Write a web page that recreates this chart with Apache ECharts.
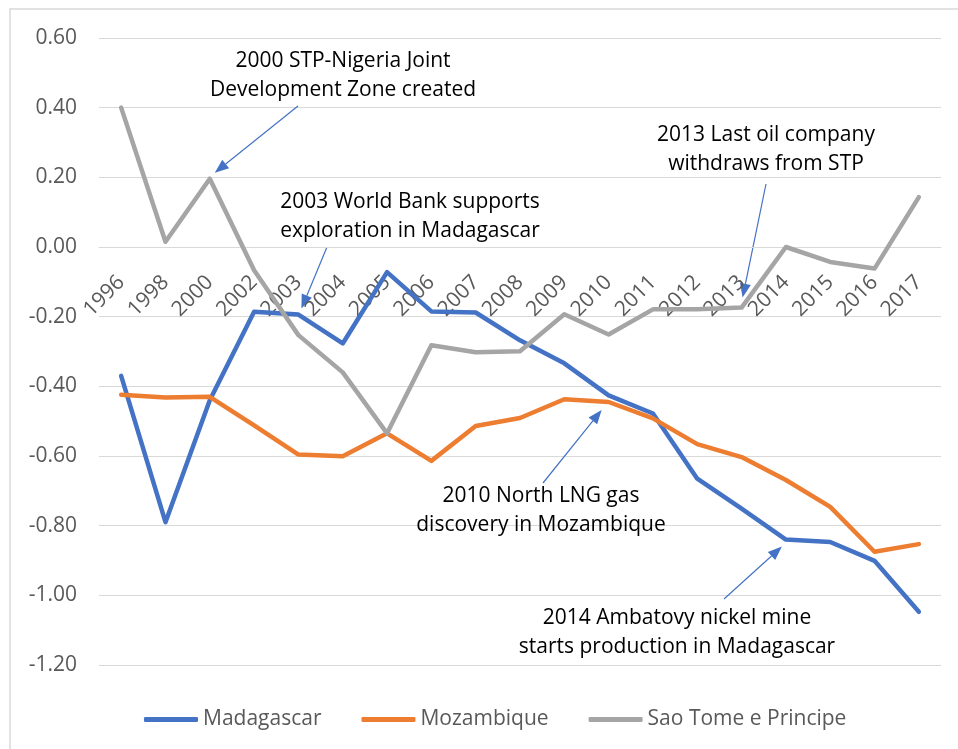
<!DOCTYPE html>
<html>
<head>
<meta charset="utf-8">
<script src="https://cdn.jsdelivr.net/npm/echarts@6/dist/echarts.min.js"></script>
<style>
  html, body { margin: 0; padding: 0; background: #fff; }
  #chart { width: 958px; height: 749px; }
</style>
</head>
<body>
<div id="chart"></div>
<script>
// data
const years = ['1996', '1998', '2000', '2002', '2003', '2004', '2005', '2006', '2007', '2008',
  '2009', '2010', '2011', '2012', '2013', '2014', '2015', '2016', '2017'];
const madagascar = [-0.37, -0.79, -0.44, -0.186, -0.194, -0.277, -0.072, -0.185, -0.188, -0.268,
  -0.334, -0.426, -0.478, -0.665, -0.751, -0.84, -0.847, -0.901, -1.047];
const mozambique = [-0.424, -0.432, -0.43, -0.512, -0.596, -0.601, -0.535, -0.614, -0.514, -0.491,
  -0.437, -0.445, -0.492, -0.566, -0.603, -0.669, -0.746, -0.875, -0.853];
const saoTome = [0.40, 0.015, 0.196, -0.067, -0.253, -0.36, -0.535, -0.282, -0.302, -0.299,
  -0.193, -0.251, -0.179, -0.179, -0.174, 0.0, -0.043, -0.062, 0.143];
const seriesNames = ['Madagascar', 'Mozambique', 'Sao Tome e Principe'];
const yMin = -1.2, yMax = 0.6, yStep = 0.2;

// annotations: text and the point the arrow points to
const notes = [
  { text: '2000 STP-Nigeria Joint\nDevelopment Zone created', series: 2, idx: 2 },
  { text: '2003 World Bank supports\nexploration in Madagascar', series: 0, idx: 4 },
  { text: '2013 Last oil company\nwithdraws from STP', series: 2, idx: 14 },
  { text: '2010 North LNG gas\ndiscovery in Mozambique', series: 1, idx: 11 },
  { text: '2014 Ambatovy nickel mine\nstarts production in Madagascar', series: 0, idx: 15 }
];
// layout of annotations (pixels)
const noteLayout = [
  { x: 343, y: 76, dx: 5, dy: -6, tail: [298, 106] },
  { x: 410, y: 217, dx: 3, dy: -6, tail: [327, 247] },
  { x: 766, y: 150, dx: 1, dy: -10, tail: [766, 184] },
  { x: 541, y: 511, dx: -7, dy: 8, tail: [543, 483] },
  { x: 677, y: 633, dx: -4, dy: 7, tail: [724, 599] }
];

const font = '"Open Sans", "Liberation Sans", sans-serif';
const colors = ['#4472C4', '#ED7D31', '#A5A5A5'];
const allData = [madagascar, mozambique, saoTome];

const gridTop = 38, gridBottom = 84, chartH = 749;
// push the category axis up to the zero line (Excel style)
const plotH = chartH - gridTop - gridBottom;
const zeroOffset = -(plotH * (0 - yMin) / (yMax - yMin));

const chart = echarts.init(document.getElementById('chart'));

chart.setOption({
  animation: false,
  color: colors,
  grid: { left: 99, right: 17, top: gridTop, bottom: gridBottom },
  legend: {
    top: 704,
    left: 139,
    icon: 'roundRect',
    itemWidth: 54,
    itemHeight: 5,
    itemGap: 40,
    textStyle: { fontSize: 21, color: '#595959', fontFamily: font },
    data: seriesNames
  },
  xAxis: {
    type: 'category',
    data: years,
    boundaryGap: true,
    position: 'bottom',
    offset: zeroOffset,
    axisLine: { onZero: false, lineStyle: { color: '#d9d9d9', width: 1 } },
    axisTick: { show: false },
    axisLabel: { rotate: 45, interval: 0, margin: 32, fontSize: 21, color: '#595959', fontFamily: font }
  },
  yAxis: {
    type: 'value',
    min: yMin,
    max: yMax,
    interval: yStep,
    axisLine: { show: false },
    axisTick: { show: false },
    splitLine: { lineStyle: { color: '#d9d9d9', width: 1 } },
    axisLabel: {
      margin: 22, fontSize: 21, color: '#595959', fontFamily: font,
      formatter: v => v.toFixed(2)
    }
  },
  series: seriesNames.map((name, i) => ({
    name: name,
    type: 'line',
    data: allData[i],
    symbol: 'none',
    lineStyle: { width: 4.5, cap: 'round', join: 'round' }
  }))
});

// border + annotation texts + arrows
const graphics = [{
  type: 'rect',
  shape: { x: 10, y: 9, width: 960, height: 760 },
  style: { fill: 'none', stroke: '#d9d9d9', lineWidth: 1.5 },
  silent: true
}];

notes.forEach((n, k) => {
  const lay = noteLayout[k];
  graphics.push({
    type: 'text',
    x: lay.x,
    y: lay.y,
    style: {
      text: n.text, align: 'center', verticalAlign: 'middle',
      fontSize: 21, fontFamily: font, lineHeight: 29, fill: '#000'
    }
  });
  const p = chart.convertToPixel({ seriesIndex: n.series }, [n.idx, allData[n.series][n.idx]]);
  const tip = [p[0] + lay.dx, p[1] + lay.dy];
  const tail = lay.tail;
  let ux = tip[0] - tail[0], uy = tip[1] - tail[1];
  const len = Math.sqrt(ux * ux + uy * uy);
  ux /= len; uy /= len;
  const headL = 14, headW = 11;
  const base = [tip[0] - ux * headL, tip[1] - uy * headL];
  graphics.push({
    type: 'line',
    shape: { x1: tail[0], y1: tail[1], x2: base[0], y2: base[1] },
    style: { stroke: '#4472C4', lineWidth: 1.2 }
  });
  graphics.push({
    type: 'polygon',
    shape: {
      points: [tip,
        [base[0] - uy * headW / 2, base[1] + ux * headW / 2],
        [base[0] + uy * headW / 2, base[1] - ux * headW / 2]]
    },
    style: { fill: '#4472C4' }
  });
});

chart.setOption({ graphic: graphics });
</script>
</body>
</html>
